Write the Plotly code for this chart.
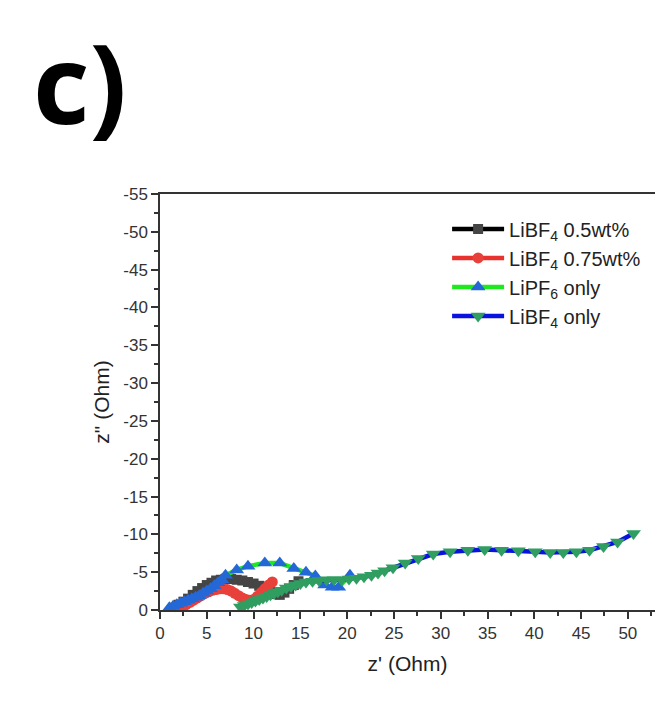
import plotly.graph_objects as go

# ---------------- data ----------------
names = ["LiBF<sub>4</sub> 0.5wt%", "LiBF<sub>4</sub> 0.75wt%", "LiPF<sub>6</sub> only", "LiBF<sub>4</sub> only"]

x_bf4_05 = [1.5, 2.0, 2.5, 3.0, 3.5, 4.0, 4.5, 5.0, 5.5, 6.0, 6.5, 7.0, 7.6, 8.2, 8.8,
            9.4, 10.0, 10.6, 11.2, 11.8, 12.3, 12.8, 13.3, 13.8, 14.3, 14.8]
y_bf4_05 = [-0.3, -0.7, -1.1, -1.5, -2.0, -2.5, -2.9, -3.3, -3.6, -3.9, -4.0, -4.1, -4.1, -4.0, -3.9,
            -3.7, -3.5, -3.2, -2.8, -2.4, -2.1, -2.0, -2.3, -2.8, -3.3, -3.8]

x_bf4_075 = [1.2, 1.6, 2.0, 2.4, 2.8, 3.2, 3.6, 4.0, 4.4, 4.8, 5.2, 5.6, 6.0, 6.4, 6.8,
             7.2, 7.6, 8.0, 8.4, 8.8, 9.2, 9.6, 10.0, 10.4, 10.8, 11.2, 11.6, 12.0]
y_bf4_075 = [-0.1, -0.2, -0.3, -0.5, -0.7, -1.0, -1.3, -1.6, -1.9, -2.2, -2.4, -2.6, -2.7, -2.8, -2.8,
             -2.7, -2.5, -2.2, -1.9, -1.6, -1.4, -1.3, -1.4, -1.8, -2.3, -2.8, -3.3, -3.7]

x_pf6 = [1.0, 1.4, 1.8, 2.2, 2.6, 3.0, 3.4, 3.8, 4.2, 4.6, 5.0, 5.4, 5.8, 6.2, 6.6,
         7.0, 8.2, 9.4, 11.2, 12.8, 14.3, 15.6, 16.6, 17.6, 18.4, 19.1, 20.3]
y_pf6 = [-0.3, -0.5, -0.7, -0.9, -1.1, -1.3, -1.5, -1.7, -1.9, -2.2, -2.5, -2.8, -3.2, -3.6, -4.0,
         -4.6, -5.3, -5.8, -6.2, -6.2, -5.5, -5.0, -4.5, -3.3, -3.0, -3.0, -4.6]

x_bf4 = [8.6, 9.0, 9.4, 9.8, 10.2, 10.6, 11.0, 11.4, 11.8, 12.2, 12.6, 13.0, 13.5, 14.0, 14.5,
         15.0, 15.6, 16.3, 17.0, 17.8, 18.6, 19.4, 20.2, 21.0, 21.8, 22.6, 23.3, 24.0, 24.9, 26.2,
         27.6, 29.2, 31.0, 32.9, 34.7, 36.5, 38.3, 40.1, 41.7, 43.1, 44.5, 45.9, 47.4, 48.9, 50.6]
y_bf4 = [-0.4, -0.6, -0.8, -1.0, -1.2, -1.4, -1.6, -1.8, -2.0, -2.2, -2.4, -2.6, -2.9, -3.1, -3.3,
         -3.5, -3.7, -3.8, -3.9, -4.0, -4.0, -4.0, -4.1, -4.2, -4.4, -4.6, -4.9, -5.2, -5.6, -6.2,
         -6.8, -7.4, -7.7, -7.9, -8.0, -7.9, -7.85, -7.7, -7.6, -7.6, -7.7, -7.9, -8.4, -9.0, -10.1]

x_ticks = [0, 5, 10, 15, 20, 25, 30, 35, 40, 45, 50]
y_ticks = [0, -5, -10, -15, -20, -25, -30, -35, -40, -45, -50, -55]
y_ticktext = ["0", "-5", "-10", "-15", "-20", "-25", "-30", "-35", "-40", "-45", "-50", "-55"]

# ---------------- figure ----------------
FONT = "Arial, Liberation Sans, sans-serif"
fig = go.Figure()

series = [
    (x_bf4_05, y_bf4_05, names[0], "#000000", "#454545", "square", 10),
    (x_bf4_075, y_bf4_075, names[1], "#e8322e", "#e8403a", "circle", 11),
    (x_pf6, y_pf6, names[2], "#1ee81e", "#2468d8", "triangle-up", 13),
    (x_bf4, y_bf4, names[3], "#0a12e0", "#2f9e60", "triangle-down", 13),
]
for xs, ys, nm, lc, mc, sym, sz in series:
    fig.add_trace(go.Scatter(
        x=xs, y=ys, name=nm, mode="lines+markers",
        line=dict(color=lc, width=4.5),
        marker=dict(color=mc, symbol=sym, size=sz, line=dict(width=0)),
        legendgroup=nm,
    ))

fig.update_layout(
    width=655, height=709,
    margin=dict(l=160, r=0, t=194, b=99),
    paper_bgcolor="white", plot_bgcolor="white",
    font=dict(family=FONT, size=17, color="#333333"),
    showlegend=True,
    legend=dict(
        x=0.58, y=0.963, xanchor="left", yanchor="top",
        bgcolor="rgba(0,0,0,0)", borderwidth=0,
        font=dict(family=FONT, size=20, color="#222222"),
        itemwidth=52, tracegroupgap=0, traceorder="grouped",
    ),
    xaxis=dict(
        range=[0, 52.9], tickmode="array", tickvals=x_ticks,
        ticks="outside", ticklen=7, tickwidth=1.5, tickcolor="#333333",
        minor=dict(dtick=2.5, ticks="outside", ticklen=4, tickwidth=1.5, tickcolor="#333333"),
        showline=True, linecolor="#333333", linewidth=1.5, mirror=True,
        showgrid=False, zeroline=False,
        tickfont=dict(family=FONT, size=17, color="#333333"),
        title=dict(text="z' (Ohm)", font=dict(family=FONT, size=21, color="#222222"), standoff=14),
    ),
    yaxis=dict(
        range=[0, -55], tickmode="array", tickvals=y_ticks, ticktext=y_ticktext,
        ticks="outside", ticklen=7, tickwidth=1.5, tickcolor="#333333",
        minor=dict(dtick=2.5, ticks="outside", ticklen=4, tickwidth=1.5, tickcolor="#333333"),
        showline=True, linecolor="#333333", linewidth=1.5, mirror=False,
        showgrid=False, zeroline=False,
        tickfont=dict(family=FONT, size=17, color="#333333"),
        title=dict(text='z" (Ohm)', font=dict(family=FONT, size=21, color="#222222"), standoff=8),
    ),
)

fig.add_annotation(
    text="<b>c)</b>", xref="paper", yref="paper", x=-0.26, y=1.272,
    xanchor="left", yanchor="middle", showarrow=False,
    font=dict(family="Open Sans, sans-serif", size=110, color="#000000"),
)

fig.write_html("out.html")
